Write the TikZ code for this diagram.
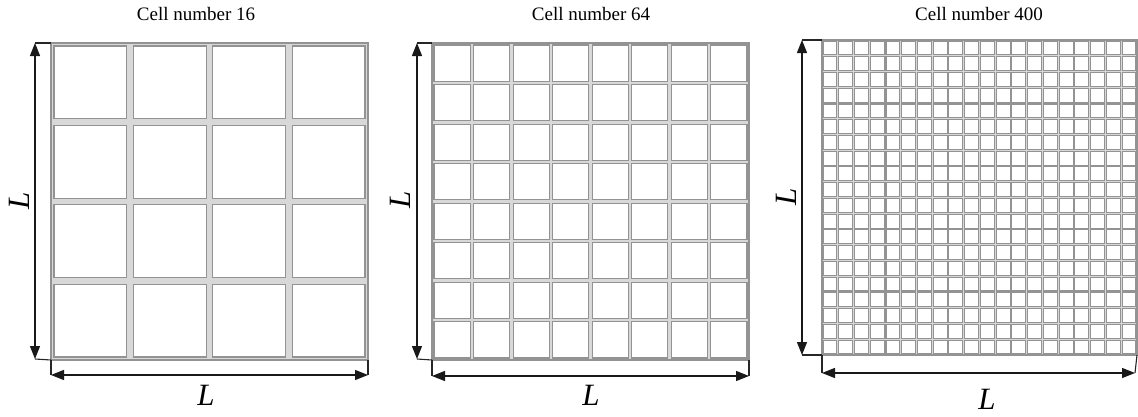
\documentclass[tikz,border=0pt]{standalone}
\usepackage{fontspec}
\setmainfont{Liberation Serif}
\usetikzlibrary{arrows.meta}
\definecolor{framegray}{HTML}{D8D8D8}
\definecolor{edgegray}{HTML}{939393}

% One panel: frame node #1 at top-left (#2,#3), side #4, #5 x #5 cells,
% outer margin #6, gap between cells #7
\newcommand\gridpanel[7]{%
  \node[framebox, minimum size=#4pt, anchor=north west] (#1) at (#2,#3) {};
  \pgfmathsetmacro\gpPitch{(#4-2*#6+#7)/#5}
  \pgfmathsetmacro\gpCell{\gpPitch-#7}
  \pgfmathtruncatemacro\gpLast{#5-1}
  \foreach \i in {0,...,\gpLast}{
    \foreach \j in {0,...,\gpLast}{
      \draw[cellbox] ({#2+#6+\i*\gpPitch},{#3+#6+\j*\gpPitch})
        rectangle ++(\gpCell,\gpCell);
    }
  }
}

\begin{document}
\begin{tikzpicture}[x=1pt,y=-1pt,
  framebox/.style={draw=edgegray, fill=framegray, line width=1.1pt,
    inner sep=0pt, outer sep=0pt, rectangle},
  cellbox/.style={draw=edgegray, fill=white, line width=1.1pt},
  tick/.style={draw=black!85, line width=1.1pt},
  dimarrow/.style={draw=black!90, line width=1.2pt,
    {Triangle[length=13pt,width=10pt]}-{Triangle[length=13pt,width=10pt]}},
  title/.style={font=\fontsize{19}{23}\selectfont, inner sep=0pt},
  dimlabel/.style={font=\fontsize{31}{35}\selectfont\itshape, inner sep=0pt}]
\useasboundingbox (0,0) rectangle (1138,416);

% ---- 4 x 4 cells ----
\gridpanel{p1}{51}{43}{317}{4}{3}{6.5}
\node[title] (t1) at (196,14) {Cell number 16};
\coordinate (v1t) at (35,43);
\coordinate (v1b) at (35,359);
\coordinate (h1l) at (51,375);
\coordinate (h1r) at (368,375);
\draw[tick] (p1.north west) -- (v1t);
\draw[tick] (p1.south west) -- (v1b);
\draw[tick] (p1.south west) -- (h1l);
\draw[tick] (p1.south east) -- (h1r);
\draw[dimarrow] (v1t) -- (v1b);
\draw[dimarrow] (h1l) -- (h1r);
\node[dimlabel, rotate=90] (l1v) at (19,201) {L};
\node[dimlabel] (l1h) at (206,395) {L};

% ---- 8 x 8 cells ----
\gridpanel{p2}{432}{43}{317}{8}{2}{3.5}
\node[title] (t2) at (591,14) {Cell number 64};
\coordinate (v2t) at (417,43);
\coordinate (v2b) at (417,359);
\coordinate (h2l) at (432,376);
\coordinate (h2r) at (749,376);
\draw[tick] (p2.north west) -- (v2t);
\draw[tick] (p2.south west) -- (v2b);
\draw[tick] (p2.south west) -- (h2l);
\draw[tick] (p2.south east) -- (h2r);
\draw[dimarrow] (v2t) -- (v2b);
\draw[dimarrow] (h2l) -- (h2r);
\node[dimlabel, rotate=90] (l2v) at (400,200) {L};
\node[dimlabel] (l2h) at (591,395) {L};

% ---- 20 x 20 cells ----
\gridpanel{p3}{822}{40}{315}{20}{1}{1.8}
\node[title] (t3) at (979,14) {Cell number 400};
\coordinate (v3t) at (802,40);
\coordinate (v3b) at (802,355);
\coordinate (h3l) at (822,373);
\coordinate (h3r) at (1135,373);
\draw[tick] (p3.north west) -- (v3t);
\draw[tick] (p3.south west) -- (v3b);
\draw[tick] (p3.south west) -- (h3l);
\draw[tick] (p3.south east) -- (h3r);
\draw[dimarrow] (v3t) -- (v3b);
\draw[dimarrow] (h3l) -- (h3r);
\node[dimlabel, rotate=90] (l3v) at (786,197) {L};
\node[dimlabel] (l3h) at (987,399) {L};
\end{tikzpicture}
\end{document}
